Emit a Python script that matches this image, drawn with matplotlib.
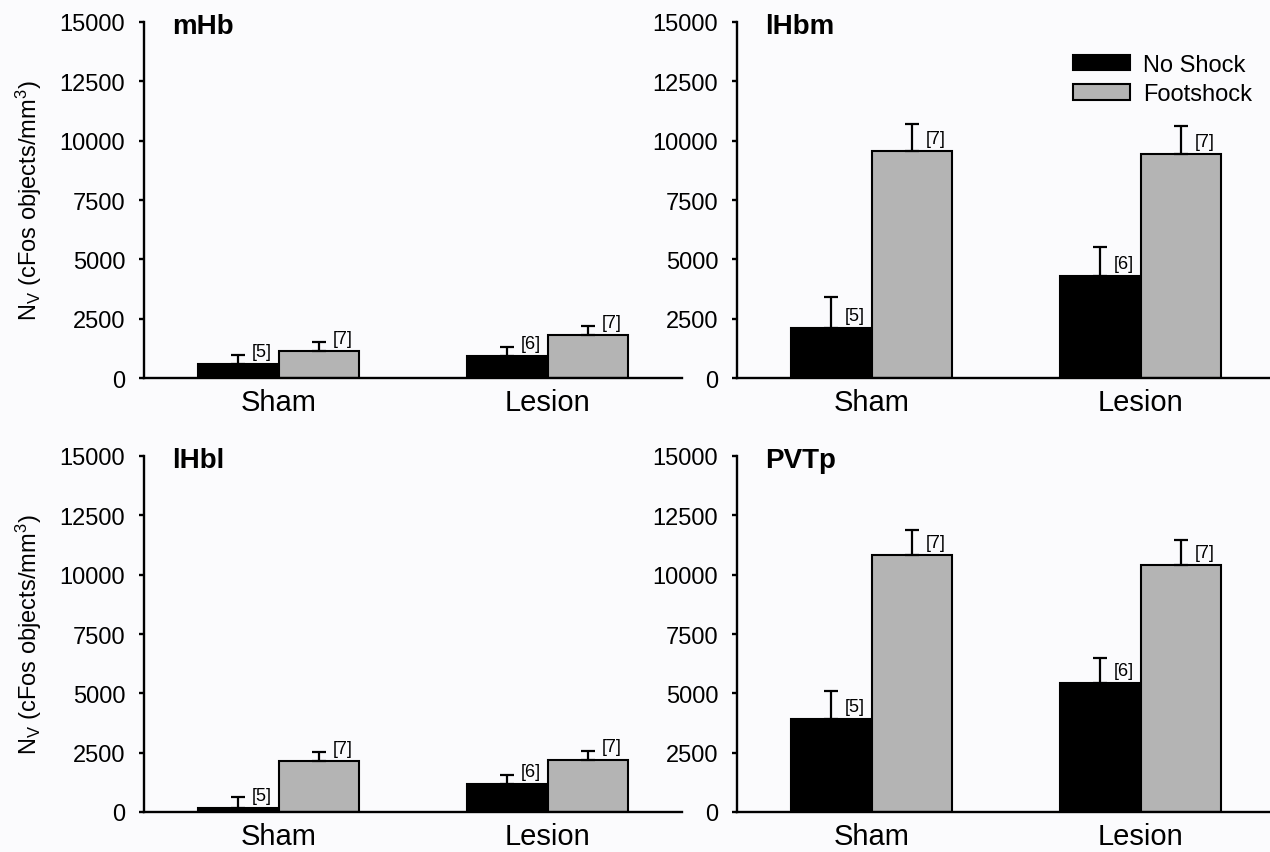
import numpy as np
import matplotlib
matplotlib.use('Agg')
import matplotlib.pyplot as plt

plt.rcParams['font.family'] = ['Liberation Sans', 'DejaVu Sans']
plt.rcParams['mathtext.default'] = 'regular'

groups = ['Sham', 'Lesion']
conditions = ['No Shock', 'Footshock']
regions = ['mHb', 'lHbm', 'lHbl', 'PVTp']

# mean N_V per region, [Sham, Lesion]
no_shock = {'mHb': [580, 930], 'lHbm': [2100, 4300], 'lHbl': [170, 1190], 'PVTp': [3900, 5430]}
footshock = {'mHb': [1140, 1820], 'lHbm': [9550, 9450], 'lHbl': [2140, 2210], 'PVTp': [10820, 10400]}
# upper error (SEM)
no_shock_err = {'mHb': [400, 360], 'lHbm': [1330, 1200], 'lHbl': [450, 390], 'PVTp': [1180, 1070]}
footshock_err = {'mHb': [360, 360], 'lHbm': [1150, 1150], 'lHbl': [380, 380], 'PVTp': [1050, 1050]}
# group sizes
n_no_shock = [5, 6]
n_footshock = [7, 7]

yticks = [0, 2500, 5000, 7500, 10000, 12500, 15000]
ylabel = r'N$_{V}$ (cFos objects/mm$^{3}$)'

W, H = 1270, 853
fig = plt.figure(figsize=(W / 100, H / 100), dpi=100, facecolor='#fbfbfd')

# axes boxes in pixels: left, top of y-axis, width, height
boxes = {'mHb': (144, 23), 'lHbm': (737, 23), 'lHbl': (144, 457), 'PVTp': (737, 457)}
aw, ah = 538, 356

width = 0.3
x = np.arange(len(groups))

for reg in regions:
    lx, ty = boxes[reg]
    ax = fig.add_axes([lx / W, 1 - (ty + ah) / H, aw / W, ah / H])
    ax.set_facecolor('none')

    b1 = ax.bar(x - width / 2, no_shock[reg], width, color='black', edgecolor='black', linewidth=1.5, zorder=2)
    b2 = ax.bar(x + width / 2, footshock[reg], width, color='#b4b4b4', edgecolor='black', linewidth=1.5, zorder=2)
    ax.errorbar(x - width / 2, no_shock[reg], yerr=[np.zeros(2), no_shock_err[reg]], fmt='none',
                ecolor='black', elinewidth=1.6, capsize=5, capthick=1.6, zorder=3)
    ax.errorbar(x + width / 2, footshock[reg], yerr=[np.zeros(2), footshock_err[reg]], fmt='none',
                ecolor='black', elinewidth=1.6, capsize=5, capthick=1.6, zorder=3)

    for i in range(len(groups)):
        ax.annotate('[' + str(n_no_shock[i]) + ']', (x[i] - width / 2, no_shock[reg][i]),
                    xytext=(10, 3), textcoords='offset points', ha='left', va='bottom', fontsize=13)
        ax.annotate('[' + str(n_footshock[i]) + ']', (x[i] + width / 2, footshock[reg][i]),
                    xytext=(10, 3), textcoords='offset points', ha='left', va='bottom', fontsize=13)

    ax.set_xlim(-0.5, 1.5)
    ax.set_ylim(0, 15000)
    ax.set_yticks(yticks)
    ax.set_yticklabels([str(t) for t in yticks])
    ax.set_xticks(x)
    ax.set_xticklabels(groups)
    ax.spines['top'].set_visible(False)
    ax.spines['right'].set_visible(False)
    ax.spines['left'].set_linewidth(1.7)
    ax.spines['bottom'].set_linewidth(1.7)
    ax.tick_params(axis='y', direction='out', length=3.6, width=1.7, pad=10, labelsize=17)
    ax.tick_params(axis='x', length=0, pad=7, labelsize=21)

    ax.text(0.052, 0.99, reg, transform=ax.transAxes, ha='left', va='center',
            fontsize=20, fontweight='bold')

    if lx == 144:
        fig.text(29 / W, 1 - (ty + ah / 2) / H, ylabel, rotation=90, ha='center', va='center', fontsize=17)

    if reg == 'lHbm':
        ax.legend([b1, b2], conditions, loc='upper left', bbox_to_anchor=(1073 / W, 1 - 55 / H),
                  bbox_transform=fig.transFigure, frameon=False, fontsize=17, borderpad=0,
                  borderaxespad=0, handlelength=2.4, handleheight=0.63, handletextpad=0.55,
                  labelspacing=0.3)

fig.savefig('out.png', dpi=100, facecolor=fig.get_facecolor())
